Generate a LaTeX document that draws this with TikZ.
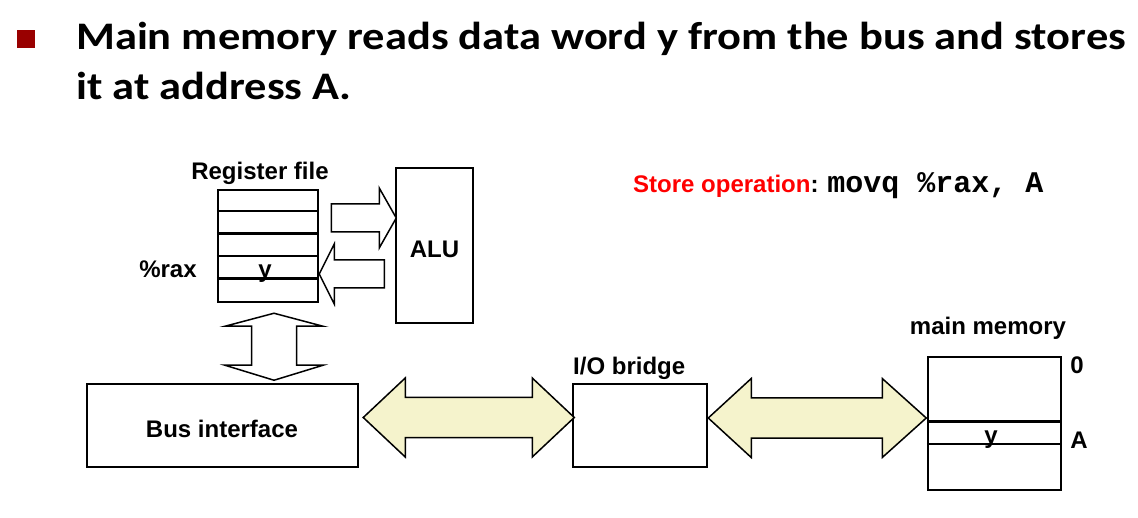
\documentclass[tikz,border=0pt]{standalone}
\usepackage{fontspec}
\setmainfont{Liberation Sans}
\setmonofont{Liberation Mono}
\newfontfamily\titlefont[FakeStretch=1.14]{Carlito}
\definecolor{bulletred}{HTML}{990000}
\definecolor{busyellow}{HTML}{F5F3CC}
\begin{document}
\begin{tikzpicture}[x=1pt,y=-1pt,
  box/.style={draw, line width=2.5pt, inner sep=0pt},
  lbl/.style={font=\fontsize{24}{24}\selectfont\bfseries, inner sep=0pt},
  heading/.style={font=\titlefont\fontsize{39}{39}\selectfont\bfseries, inner sep=0pt, anchor=base west},
  blockarrow/.style={draw, line width=1.5pt, fill=white, line join=miter},
  busarrow/.style={blockarrow, fill=busyellow}]
\useasboundingbox (0,0) rectangle (1138,518);
\node[fill=bulletred, minimum size=18pt, inner sep=0pt] (bullet) at (26,39) {};
\node[heading] (line1) at (76,50) {Main memory reads data word y from the bus and stores};
\node[heading] (line2) at (76,100) {it at address A.};
\node[box, minimum width=100pt, minimum height=112pt] (regfile) at (268,246) {};
\foreach \i in {1,...,4}
  \draw[line width=2.5pt] ([yshift=-\i*22.4pt]regfile.north west) -- ([yshift=-\i*22.4pt]regfile.north east);
\node[box, minimum width=77pt, minimum height=155pt] (alu) at (434.5,245.5) {};
\node[box, minimum width=271pt, minimum height=83pt] (bi) at (222.5,425.5) {};
\node[box, minimum width=134pt, minimum height=83pt] (iob) at (640,425.5) {};
\node[box, minimum width=133pt, minimum height=133pt] (mem) at (994.5,423.5) {};
\draw[line width=2.5pt] ([yshift=-66pt]mem.north west) -- ([yshift=-66pt]mem.north east);
\draw[line width=2.5pt] ([yshift=-88pt]mem.north west) -- ([yshift=-88pt]mem.north east);
\node[lbl, anchor=base] (rflabel) at (260,180) {Register file};
\node[lbl, anchor=base] (rax) at (168,278) {\%rax};
\node[lbl, anchor=base] (ry) at (265,278) {y};
\node[lbl, anchor=base] (alulabel) at (alu |- 0,258) {ALU};
\node[lbl, anchor=base] (bilabel) at (222,437) {Bus interface};
\node[lbl, anchor=base west] (ioblabel) at (573,375) {I/O bridge};
\node[lbl, anchor=base] (memlabel) at (988,335) {main memory};
\node[lbl, anchor=base] (addr0) at (1077,374) {0};
\node[lbl, anchor=base] (addrA) at (1079,448) {A};
\node[lbl, anchor=base] (my) at (991,443) {y};
\node[lbl, anchor=base west] (op) at (633,193) {\textcolor{red}{Store operation}: {\ttfamily\fontsize{30}{30}\selectfont movq \%rax, A}};
\draw[blockarrow] ([shift={(12,-42)}]regfile.east) -- ++(48,0) -- ++(0,-16) -- ++(17,30) -- ++(-17,30) -- ++(0,-16) -- ++(-48,0) -- cycle;
\draw[blockarrow] ([yshift=-28pt]regfile.east) -- ++(15,-30) -- ++(0,16) -- ++(50,0) -- ++(0,28) -- ++(-50,0) -- ++(0,16) -- cycle;
\draw[blockarrow] ([shift={(6,10)}]regfile.south) -- ++(49,13) -- ++(-26.5,0) -- ++(0,39) -- ++(26.5,0) -- ++(-49,15) -- ++(-49,-15) -- ++(26.5,0) -- ++(0,-39) -- ++(-26.5,0) -- cycle;
\draw[busarrow] ([shift={(4,-8)}]bi.east) -- ++(42,-39.5) -- ++(0,19.5) -- ++(127,0) -- ++(0,-19.5) -- ++(42,39.5) -- ++(-42,39.5) -- ++(0,-19.5) -- ++(-127,0) -- ++(0,19.5) -- cycle;
\draw[busarrow] ([yshift=7.5pt]iob.east) -- ++(43,-39.5) -- ++(0,19.5) -- ++(131,0) -- ++(0,-19.5) -- ++(44,39.5) -- ++(-44,39.5) -- ++(0,-19.5) -- ++(-131,0) -- ++(0,19.5) -- cycle;
\end{tikzpicture}
\end{document}
